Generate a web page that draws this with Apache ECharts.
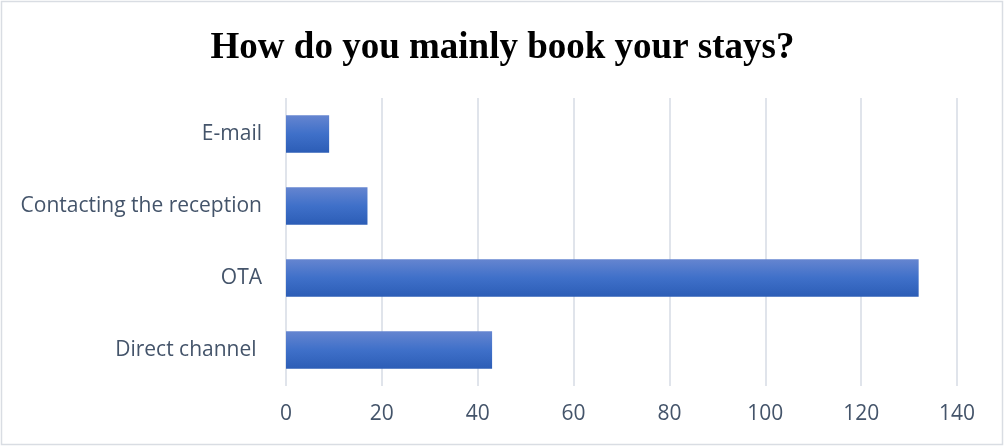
<!DOCTYPE html>
<html>
<head>
<meta charset="utf-8">
<script src="https://cdn.jsdelivr.net/npm/echarts@6/dist/echarts.min.js"></script>
<style>
  html, body { margin: 0; padding: 0; background: #fff; }
  #chart { width: 1005px; height: 447px; }
</style>
</head>
<body>
<div id="chart"></div>
<script>
// Booking channels, bottom to top as drawn on the category axis
const categories = ['Direct channel ', 'OTA', 'Contacting the reception', 'E-mail'];
const responses = [43, 132, 17, 9];
const xTicks = [0, 20, 40, 60, 80, 100, 120, 140];

const chart = echarts.init(document.getElementById('chart'), null, { renderer: 'canvas' });

chart.setOption({
  backgroundColor: '#ffffff',
  animation: false,
  title: {
    text: 'How do you mainly book your stays?',
    left: 'center',
    top: 25,
    textStyle: {
      fontFamily: '"Liberation Serif", "Times New Roman", serif',
      fontWeight: 'bold',
      fontSize: 37,
      color: '#000000'
    }
  },
  graphic: [{
    type: 'rect',
    shape: { x: 1.5, y: 1.5, width: 1001, height: 443 },
    style: { fill: 'none', stroke: '#d9dde3', lineWidth: 1.5 },
    silent: true
  }],
  grid: {
    left: 286,
    right: 48,
    top: 98,
    bottom: 61,
    containLabel: false
  },
  xAxis: {
    type: 'value',
    min: xTicks[0],
    max: xTicks[xTicks.length - 1],
    interval: 20,
    axisLine: { show: false },
    axisTick: { show: false },
    axisLabel: {
      margin: 18,
      fontFamily: '"Open Sans", "Noto Sans", sans-serif',
      fontSize: 21,
      color: '#44546a'
    },
    splitLine: { lineStyle: { color: '#e0e4eb', width: 2 } }
  },
  yAxis: {
    type: 'category',
    data: categories,
    axisLine: { show: false },
    axisTick: { show: false },
    axisLabel: {
      margin: 24,
      fontFamily: '"Open Sans", "Noto Sans", sans-serif',
      fontSize: 21,
      color: '#44546a'
    }
  },
  series: [{
    type: 'bar',
    data: responses,
    barCategoryGap: '48%',
    itemStyle: {
      color: new echarts.graphic.LinearGradient(0, 0, 0, 1, [
        { offset: 0, color: '#6585d0' },
        { offset: 0.5, color: '#3f70c9' },
        { offset: 1, color: '#2c5db6' }
      ])
    }
  }]
});
</script>
</body>
</html>
